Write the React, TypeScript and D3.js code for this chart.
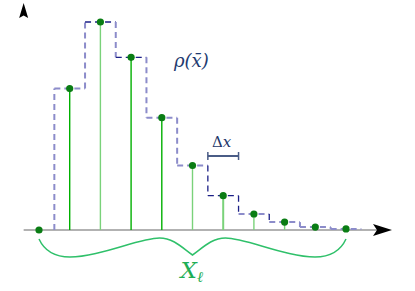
import React from 'react';
import * as d3 from 'd3';

// sample index and density value at each sample
const samples = [0, 1, 2, 3, 4, 5, 6, 7, 8, 9, 10];
const density = [0, 0.68, 1.0, 0.83, 0.54, 0.31, 0.165, 0.077, 0.038, 0.014, 0.005];
// tone of each stem and of each step (vertical riser, horizontal tread)
const stemTone = ['', 'dark', 'light', 'dark', 'dark', 'light', 'light', 'light', 'light', 'light', 'light'];
const riserTone = ['', 'light', 'light', 'light', 'light', 'light', 'dark', 'dark', 'dark', 'light', 'light'];
const treadTone = ['', 'light', 'dark', 'dark', 'light', 'light', 'dark', 'light', 'light', 'light', 'light'];

const W = 415;
const H = 291;

const App = () => {
    const xs = d3.scaleLinear().domain([0, 10]).range([39, 346]);
    const ys = d3.scaleLinear().domain([0, 1]).range([230, 22]);
    const base = ys(0);
    const axisStart = xs(-0.5);

    const stemColor = (t) => (t === 'dark' ? '#00b000' : '#7ad27a');
    const dashColor = (t) => (t === 'dark' ? '#1b1f86' : '#8c8cca');

    const steps = samples.slice(1).map((i) => {
        const prev = i === 1 ? base : ys(density[i - 1]);
        const x0 = xs(i - 0.5);
        const x1 = xs(i + 0.5);
        const y = ys(density[i]);
        return (
            <g key={'s' + i}>
                <line x1={x0} x2={x0} y1={prev} y2={y} stroke={dashColor(riserTone[i])}
                    strokeWidth={riserTone[i] === 'light' ? 2 : 1.3} strokeDasharray="6,4" />
                <line x1={x0} x2={x1} y1={y} y2={y} stroke={dashColor(treadTone[i])}
                    strokeWidth={treadTone[i] === 'light' ? 2 : 1.3} strokeDasharray="6,4" />
            </g>
        );
    });

    const stems = samples.map((i) => (
        <g key={'p' + i}>
            {i > 0 && (
                <line x1={xs(i)} x2={xs(i)} y1={base} y2={ys(density[i])}
                    stroke={stemColor(stemTone[i])} strokeWidth={i === 6 ? 2 : 1.4} />
            )}
            <circle cx={xs(i)} cy={ys(density[i])} r={3.6} fill="#0a7d14" />
        </g>
    ));

    // curly brace under the samples
    const bl = xs(0), br = xs(10), bm = xs(5);
    const top = base + 8, bot = base + 27, tip = base + 25;
    const brace = d3.path();
    brace.moveTo(bl, top + 1);
    brace.bezierCurveTo(bl + 6, bot - 5, bl + 16, bot, bl + 31, bot);
    brace.bezierCurveTo(bl + 60, bot, bm - 53, top, bm - 33, top);
    brace.bezierCurveTo(bm - 18, top, bm - 8, tip - 5, bm, tip);
    brace.bezierCurveTo(bm + 8, tip - 5, bm + 18, top, bm + 33, top);
    brace.bezierCurveTo(bm + 53, top, br - 60, bot, br - 31, bot);
    brace.bezierCurveTo(br - 16, bot, br - 6, bot - 5, br, top + 1);

    const dx0 = xs(5.5), dx1 = xs(6.5), dy = 156;

    return (
        <svg width={W} height={H} style={{ position: 'absolute', left: 0, top: 0 }}>
            <rect width={W} height={H} fill="#fff" />
            <line x1={axisStart} x2={378} y1={base} y2={base} stroke="#666" strokeWidth={1.2} />
            <path d={`M392,${base} L373,${base - 6} L377,${base} L373,${base + 6} Z`} fill="#000" />
            <path d={`M${axisStart},3 L${axisStart - 4.5},18 L${axisStart},15.5 L${axisStart + 4.5},18 Z`} fill="#000" />
            {steps}
            {stems}
            <path d={brace.toString()} fill="none" stroke="#2fc06a" strokeWidth={1.5} />
            <text x={bm - 12} y={base + 48} fill="#1fae55" fontFamily="DejaVu Serif" fontStyle="italic" fontSize={23}>
                X<tspan fontSize={15} dy={4}>ℓ</tspan>
            </text>
            <text x={174} y={67} fill="#1e3a70" fontFamily="DejaVu Serif" fontStyle="italic" fontSize={18}>
                ρ(x̄)
            </text>
            <text x={212} y={147} fill="#23376a" fontFamily="DejaVu Serif" fontSize={15}>
                Δ<tspan fontStyle="italic">x</tspan>
            </text>
            <line x1={dx0} x2={dx1} y1={dy} y2={dy} stroke="#4a5c86" strokeWidth={2} />
            <line x1={dx0} x2={dx0} y1={dy - 4} y2={dy + 4} stroke="#4a5c86" strokeWidth={1.5} />
            <line x1={dx1} x2={dx1} y1={dy - 4} y2={dy + 4} stroke="#4a5c86" strokeWidth={1.5} />
        </svg>
    );
};

export default App;
